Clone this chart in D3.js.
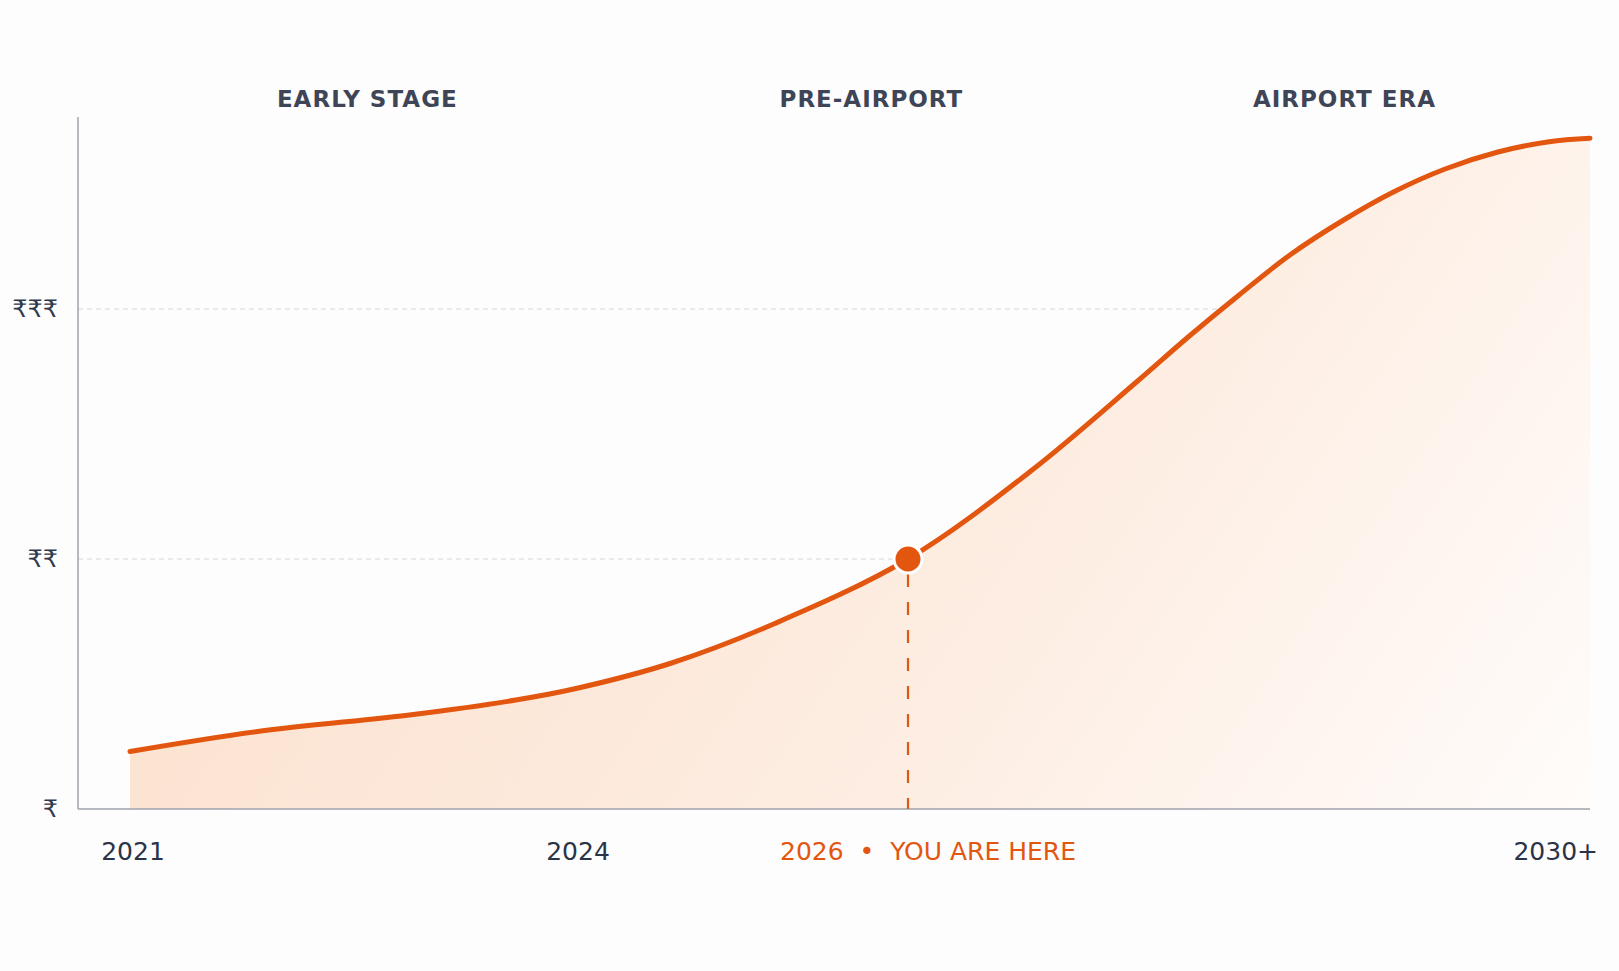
<!DOCTYPE html>
<html>
<head>
<meta charset="utf-8">
<script src="https://cdn.jsdelivr.net/npm/d3@7"></script>
<style>
  html, body { margin: 0; padding: 0; background: #fdfdfd; }
  svg text { font-family: "DejaVu Sans", sans-serif; }
</style>
</head>
<body>
<div class="chart"></div>
<script>
// ------------------------------------------------------------------------------------------------------------------
// Data
var years  = [2021, 2021.86, 2022.91, 2023.6, 2024, 2024.58, 2025.2, 2026, 2026.73, 2027.34, 2027.64, 2027.94,
              2028.24, 2028.55, 2028.85, 2029.15, 2029.46, 2029.76, 2030];
var values = [1.23, 1.31, 1.378, 1.436, 1.481, 1.584, 1.742, 2.0, 2.357, 2.708, 2.886, 3.055,
              3.216, 3.354, 3.469, 3.56, 3.628, 3.669, 3.683];

var tick_years  = [2021, 2024, 2026, 2030];
var tick_labels = ["2021", "2024", "2026  \u2022  YOU ARE HERE", "2030+"];

var level_values = [1, 2, 3];
var level_labels = ["\u20b9", "\u20b9\u20b9", "\u20b9\u20b9\u20b9"];

var phase_labels = ["EARLY STAGE", "PRE-AIRPORT", "AIRPORT ERA"];
var phase_years  = [2022.6, 2025.78, 2028.56];

var now_year = 2026;
var now_value = 2.0;

// ------------------------------------------------------------------------------------------------------------------
// Global var
var width = 1619,
    height = 971;
var plot_left = 78, plot_right = 1590, plot_top = 117, plot_bottom = 809;
var orange = "#e2560f";

var svg = d3.select(".chart").append("svg")
  .attr("width", width)
  .attr("height", height);

// scales (x is piecewise: the picture is not linear in time)
var x = d3.scaleLinear()
  .domain([2021, 2024, 2026, 2030])
  .range([130, 575, 908, 1590]);

var y = d3.scaleLinear()
  .domain([1, 3])
  .range([plot_bottom, 309]);

// ------------------------------------------------------------------------------------------------------------------
// Gradient for the area
var defs = svg.append("defs");
var grad = defs.append("linearGradient")
  .attr("id", "area_grad")
  .attr("gradientUnits", "userSpaceOnUse")
  .attr("x1", 600).attr("y1", y(3.7))
  .attr("x2", plot_right).attr("y2", plot_bottom);
grad.append("stop").attr("offset", "0%").attr("stop-color", "#fce4d3");
grad.append("stop").attr("offset", "50%").attr("stop-color", "#fdede2");
grad.append("stop").attr("offset", "100%").attr("stop-color", "#fffcfa");

// ------------------------------------------------------------------------------------------------------------------
// Grid lines
svg.selectAll(".grid")
  .data(level_values.slice(1))
  .enter().append("line")
  .attr("class", "grid")
  .attr("x1", plot_left)
  .attr("x2", plot_right)
  .attr("y1", function(d) { return y(d); })
  .attr("y2", function(d) { return y(d); })
  .attr("stroke", "#d3d6db")
  .attr("stroke-width", 1)
  .attr("stroke-dasharray", "5,4");

// ------------------------------------------------------------------------------------------------------------------
// Area + line
var points = years.map(function(d, i) { return [d, values[i]]; });

var area = d3.area()
  .x(function(d) { return x(d[0]); })
  .y0(y(1))
  .y1(function(d) { return y(d[1]); })
  .curve(d3.curveCatmullRom.alpha(0.5));

var line = d3.line()
  .x(function(d) { return x(d[0]); })
  .y(function(d) { return y(d[1]); })
  .curve(d3.curveCatmullRom.alpha(0.5));

svg.append("path")
  .attr("d", area(points))
  .attr("fill", "url(#area_grad)");

svg.append("path")
  .attr("d", line(points))
  .attr("fill", "none")
  .attr("stroke", orange)
  .attr("stroke-width", 5)
  .attr("stroke-linecap", "round");

// ------------------------------------------------------------------------------------------------------------------
// Axes (plain lines)
svg.append("line")
  .attr("x1", plot_left).attr("x2", plot_left)
  .attr("y1", plot_top).attr("y2", plot_bottom)
  .attr("stroke", "#9ea3ab")
  .attr("stroke-width", 1.5);

svg.append("line")
  .attr("x1", plot_left).attr("x2", plot_right)
  .attr("y1", plot_bottom).attr("y2", plot_bottom)
  .attr("stroke", "#9ea3ab")
  .attr("stroke-width", 1.5);

// "you are here" marker
svg.append("line")
  .attr("x1", x(now_year)).attr("x2", x(now_year))
  .attr("y1", y(now_value) + 15).attr("y2", plot_bottom)
  .attr("stroke", orange)
  .attr("stroke-width", 2.2)
  .attr("stroke-dasharray", "13,15");

svg.append("circle")
  .attr("cx", x(now_year))
  .attr("cy", y(now_value))
  .attr("r", 14)
  .attr("fill", orange)
  .attr("stroke", "#ffffff")
  .attr("stroke-width", 3);

// ------------------------------------------------------------------------------------------------------------------
// Labels
svg.selectAll(".level")
  .data(level_values)
  .enter().append("text")
  .attr("class", "level")
  .attr("x", plot_left - 20)
  .attr("y", function(d) { return y(d); })
  .attr("dy", "0.35em")
  .attr("text-anchor", "end")
  .attr("font-size", 24)
  .attr("fill", "#2f3a4f")
  .text(function(d, i) { return level_labels[i]; });

svg.selectAll(".year")
  .data(tick_years)
  .enter().append("text")
  .attr("class", "year")
  .attr("x", function(d, i) {
    if (i == 2) return x(d) + 20;
    if (i == 3) return x(d) + 8;
    return x(d) + 3;
  })
  .attr("y", 860)
  .attr("text-anchor", function(d, i) { return i == 3 ? "end" : "middle"; })
  .attr("font-size", 25)
  .attr("fill", function(d, i) { return i == 2 ? orange : "#2b3446"; })
  .style("white-space", "pre")
  .text(function(d, i) { return tick_labels[i]; });

svg.selectAll(".phase")
  .data(phase_years)
  .enter().append("text")
  .attr("class", "phase")
  .attr("x", function(d) { return x(d); })
  .attr("y", 107)
  .attr("text-anchor", "middle")
  .attr("font-size", 23)
  .attr("font-weight", "bold")
  .attr("letter-spacing", 1)
  .attr("fill", "#3d4557")
  .text(function(d, i) { return phase_labels[i]; });
</script>
</body>
</html>
